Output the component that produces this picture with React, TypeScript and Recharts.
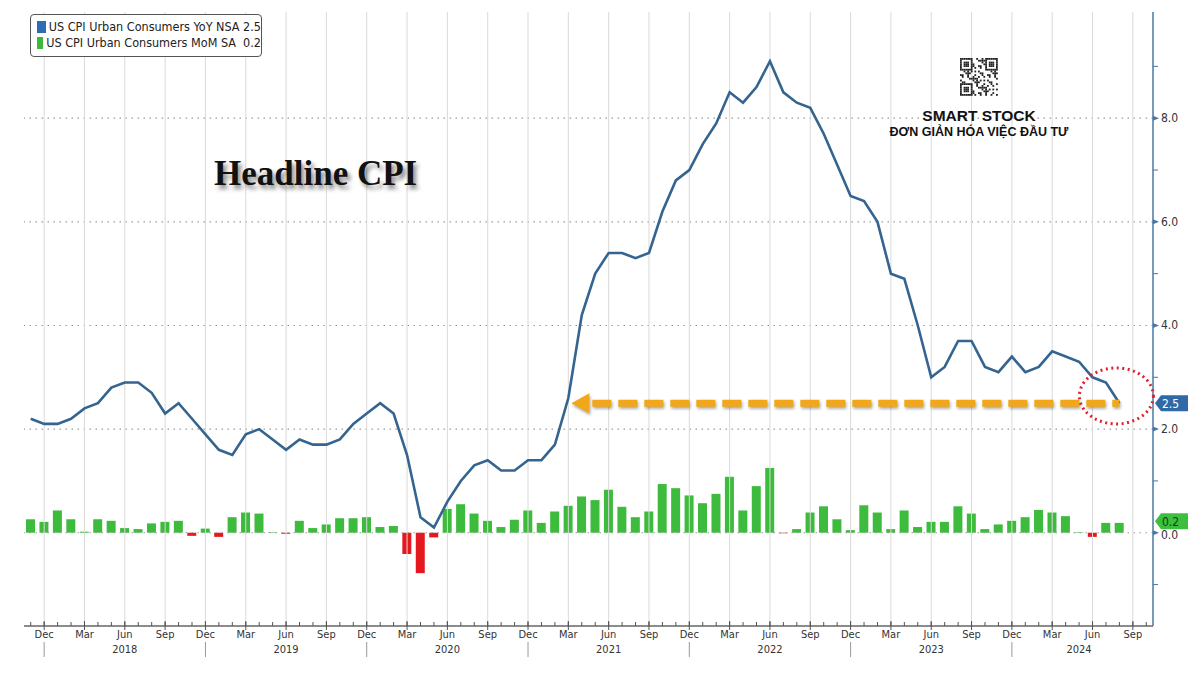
import React from "react";
import { Bar, Cell, ComposedChart, Line, ReferenceDot, ReferenceLine, XAxis, YAxis } from "recharts";

const monthNames = ["Jan", "Feb", "Mar", "Apr", "May", "Jun", "Jul", "Aug", "Sep", "Oct", "Nov", "Dec"];
// Nov 2017 .. Oct 2024 (last two months are empty room on the axis)
const months: string[] = Array.from({ length: 84 }, (_, i) => {
  const k = 10 + i;
  return `${monthNames[k % 12]} ${String(2017 + Math.floor(k / 12)).slice(2)}`;
});

const yoy = [
  2.2, 2.1,
  2.1, 2.2, 2.4, 2.5, 2.8, 2.9, 2.9, 2.7, 2.3, 2.5, 2.2, 1.9,
  1.6, 1.5, 1.9, 2.0, 1.8, 1.6, 1.8, 1.7, 1.7, 1.8, 2.1, 2.3,
  2.5, 2.3, 1.5, 0.3, 0.1, 0.6, 1.0, 1.3, 1.4, 1.2, 1.2, 1.4,
  1.4, 1.7, 2.6, 4.2, 5.0, 5.4, 5.4, 5.3, 5.4, 6.2, 6.8, 7.0,
  7.5, 7.9, 8.5, 8.3, 8.6, 9.1, 8.5, 8.3, 8.2, 7.7, 7.1, 6.5,
  6.4, 6.0, 5.0, 4.9, 4.0, 3.0, 3.2, 3.7, 3.7, 3.2, 3.1, 3.4,
  3.1, 3.2, 3.5, 3.4, 3.3, 3.0, 2.9, 2.5
];

const mom = [
  0.26, 0.21,
  0.43, 0.26, 0.02, 0.26, 0.23, 0.09, 0.07, 0.18, 0.21, 0.23, -0.06, 0.08,
  -0.08, 0.3, 0.39, 0.37, 0.01, -0.02, 0.23, 0.09, 0.16, 0.28, 0.28, 0.3,
  0.11, 0.13, -0.41, -0.78, -0.09, 0.46, 0.55, 0.37, 0.23, 0.11, 0.25, 0.43,
  0.19, 0.41, 0.52, 0.7, 0.63, 0.83, 0.5, 0.3, 0.41, 0.94, 0.86, 0.72,
  0.57, 0.75, 1.08, 0.43, 0.9, 1.25, -0.01, 0.07, 0.39, 0.51, 0.26, 0.05,
  0.53, 0.39, 0.07, 0.43, 0.11, 0.21, 0.21, 0.51, 0.37, 0.07, 0.16, 0.23,
  0.3, 0.44, 0.39, 0.32, 0.01, -0.08, 0.19, 0.19
];

const quarterMonths = ["Dec", "Mar", "Jun", "Sep"];
const yearLabels: Record<string, string> = {
  "Jun 18": "2018", "Jun 19": "2019", "Jun 20": "2020", "Jun 21": "2021",
  "Jun 22": "2022", "Jun 23": "2023", "May 24": "2024"
};
const yDomain = [-1.8, 10.05];
const yTicks = [-1, 0, 1, 2, 3, 4, 5, 6, 7, 8, 9];
const gridY = [0, 2, 4, 6, 8];
const gridX = months.filter((m) => quarterMonths.includes(m.split(" ")[0]));
const lastYoy = 2.5;
const lastMom = 0.2;
const arrowFrom = "Mar 21";
const arrowTo = "Aug 24";

const data = months.map((month, i) => ({
  month,
  yoy: i < yoy.length ? yoy[i] : null,
  mom: i < mom.length ? mom[i] : null
}));

const font = '"DejaVu Sans Condensed", "DejaVu Sans", sans-serif';
const lineBlue = "#34648f";
const green = "#3dbb3d";
const red = "#e3191f";
const gridColor = "#999";

function MonthTick({ x, y, payload }: any) {
  const label = String(payload.value);
  const m = label.split(" ")[0];
  const major = quarterMonths.includes(m);
  const year = yearLabels[label];
  return (
    <g>
      <line x1={x} x2={x} y1={y - 4} y2={y} stroke="#555" />
      {major && <line x1={x} x2={x} y1={y - 5} y2={y + 4} stroke="#555" />}
      {major && (
        <text x={x} y={y + 12} textAnchor="middle" fontSize={11} fontFamily={font} fill="#333">
          {m}
        </text>
      )}
      {m === "Dec" && <line x1={x} x2={x} y1={y + 16} y2={y + 31} stroke="#999" />}
      {year && (
        <text x={x} y={y + 27} textAnchor="middle" fontSize={11} fontFamily={font} fill="#333">
          {year}
        </text>
      )}
    </g>
  );
}

function ValueTick({ x, y, payload }: any) {
  const v = payload.value;
  if (v >= 0 && v % 2 === 0) {
    return (
      <g>
        <polygon points={`${x},${y - 2.5} ${x + 6},${y} ${x},${y + 2.5}`} fill="#4a77a3" />
        <text x={x + 8} y={y + (v === 0 ? 6 : 4)} fontSize={12} fontFamily={font} fill="#333">
          {v.toFixed(1)}
        </text>
      </g>
    );
  }
  return <line x1={x} x2={x + 5} y1={y} y2={y} stroke="#4a77a3" />;
}

function ArrowShape({ x1, y1, x2 }: any) {
  const tipX = Math.min(x1, x2);
  const endX = Math.max(x1, x2);
  return (
    <g style={{ filter: "drop-shadow(1px 2px 1.5px rgba(0,0,0,0.35))" }}>
      <line x1={tipX + 24} x2={endX} y1={y1} y2={y1} stroke="#f2a71b" strokeWidth={7} strokeDasharray="19 7" />
      <polygon points={`${tipX + 3},${y1} ${tipX + 21},${y1 - 10} ${tipX + 21},${y1 + 10}`} fill="#f2a71b" />
    </g>
  );
}

function BoxLabel({ x1, x2, y1, text, fill, color, dy = 0 }: any) {
  const r = Math.max(x1, x2);
  const c = y1 + dy;
  return (
    <g>
      <polygon
        points={`${r + 2},${c} ${r + 8},${c - 8} ${r + 35},${c - 8} ${r + 35},${c + 8} ${r + 8},${c + 8}`}
        fill={fill}
      />
      <text x={r + 9} y={c + 4.5} fontSize={12} fontFamily={font} fill={color}>
        {text}
      </text>
    </g>
  );
}

function QrMark() {
  const n = 21;
  const cells: React.ReactElement[] = [];
  const finder = (r: number, c: number) => {
    const inF = (r0: number, c0: number) => r >= r0 && r < r0 + 7 && c >= c0 && c < c0 + 7;
    const pick = (r0: number, c0: number) => {
      const dr = r - r0;
      const dc = c - c0;
      const edge = dr === 0 || dr === 6 || dc === 0 || dc === 6;
      const core = dr >= 2 && dr <= 4 && dc >= 2 && dc <= 4;
      return edge || core;
    };
    if (inF(0, 0)) return pick(0, 0);
    if (inF(0, 14)) return pick(0, 14);
    if (inF(14, 0)) return pick(14, 0);
    return null;
  };
  for (let r = 0; r < n; r++) {
    for (let c = 0; c < n; c++) {
      const f = finder(r, c);
      const on = f === null ? (r * 7 + c * 11 + ((r * c) % 5)) % 3 === 0 : f;
      if (on) cells.push(<rect key={`${r}-${c}`} x={c * 1.8} y={r * 1.8} width={1.8} height={1.8} fill="#222" />);
    }
  }
  return (
    <svg width={38} height={38} style={{ position: "absolute", left: 960, top: 58 }}>
      {cells}
    </svg>
  );
}

export default function App() {
  return (
    <div style={{ position: "absolute", left: 0, top: 0, width: 1200, height: 674, background: "#fff", overflow: "hidden" }}>
      <ComposedChart width={1200} height={674} data={data} margin={{ top: 12, right: 0, bottom: 0, left: 24 }}>
        <XAxis
          dataKey="month"
          interval={0}
          height={48}
          tickSize={0}
          tickMargin={0}
          tickLine={false}
          axisLine={{ stroke: "#666", strokeWidth: 1.5 }}
          tick={<MonthTick />}
        />
        <YAxis
          orientation="right"
          type="number"
          width={47}
          domain={yDomain}
          allowDataOverflow
          ticks={yTicks}
          interval={0}
          tickSize={0}
          tickMargin={0}
          tickLine={false}
          axisLine={{ stroke: "#4a77a3", strokeWidth: 1.5 }}
          tick={<ValueTick />}
        />
        {gridY.map((v) => (
          <ReferenceLine key={`gy${v}`} y={v} stroke={gridColor} strokeWidth={1.2} strokeDasharray="1.5 4.5" />
        ))}
        {gridX.map((m) => (
          <ReferenceLine key={`gx${m}`} x={m} stroke="#dadada" strokeWidth={1} />
        ))}
        <Bar dataKey="mom" barSize={9} isAnimationActive={false}>
          {data.map((d) => (
            <Cell key={d.month} fill={(d.mom ?? 0) < 0 ? red : green} />
          ))}
        </Bar>
        <Line
          dataKey="yoy"
          type="linear"
          stroke={lineBlue}
          strokeWidth={2.6}
          dot={false}
          activeDot={false}
          connectNulls={false}
          isAnimationActive={false}
        />
        <ReferenceLine
          segment={[
            { x: arrowFrom, y: lastYoy },
            { x: arrowTo, y: lastYoy }
          ]}
          shape={(p: any) => <ArrowShape {...p} />}
        />
        <ReferenceDot
          x={arrowTo}
          y={2.66}
          r={30}
          shape={(p: any) => (
            <ellipse
              cx={p.cx - 3}
              cy={p.cy + 1}
              rx={37}
              ry={28}
              fill="none"
              stroke="#e0202a"
              strokeWidth={3}
              strokeDasharray="2 3.5"
            />
          )}
        />
        <ReferenceLine y={lastYoy} shape={(p: any) => <BoxLabel {...p} text={lastYoy.toFixed(1)} fill="#2f6aa6" color="#fff" />} />
        <ReferenceLine
          y={lastMom}
          shape={(p: any) => <BoxLabel {...p} dy={-1} text={lastMom.toFixed(1)} fill="#3cbf3c" color="#1a3a1a" />}
        />
      </ComposedChart>

      <div
        style={{
          position: "absolute",
          left: 30,
          top: 14,
          width: 232,
          height: 43,
          border: "1px solid #555",
          borderRadius: 4,
          background: "#fff",
          fontFamily: font,
          fontSize: 12.5,
          color: "#222",
          boxSizing: "border-box",
          padding: "4px 0 0 6px",
          lineHeight: "16px",
          whiteSpace: "nowrap"
        }}
      >
        <div style={{ display: "flex", alignItems: "center" }}>
          <span style={{ width: 12, height: 12, background: "#2d6cb5", marginRight: 3, display: "inline-block" }} />
          US CPI Urban Consumers YoY NSA 2.5
        </div>
        <div style={{ display: "flex", alignItems: "center" }}>
          <span style={{ width: 12, height: 12, background: "#3cb83c", marginRight: 3, display: "inline-block" }} />
          US CPI Urban Consumers MoM SA&nbsp;&nbsp;0.2
        </div>
      </div>

      <div
        style={{
          position: "absolute",
          left: 214,
          top: 154,
          fontFamily: '"Liberation Serif", serif',
          fontWeight: "bold",
          fontSize: 35,
          color: "#111",
          textShadow: "3px 4px 4px rgba(0,0,0,0.45)",
          whiteSpace: "nowrap"
        }}
      >
        Headline CPI
      </div>

      <QrMark />
      <div
        style={{
          position: "absolute",
          left: 879,
          top: 107,
          width: 200,
          textAlign: "center",
          fontFamily: '"Liberation Sans", Arial, sans-serif',
          fontWeight: "bold",
          color: "#111",
          whiteSpace: "nowrap"
        }}
      >
        <div style={{ fontSize: 15.5, lineHeight: "18px" }}>SMART STOCK</div>
        <div style={{ fontSize: 12.5, lineHeight: "15px" }}>ĐƠN GIẢN HÓA VIỆC ĐẦU TƯ</div>
      </div>
    </div>
  );
}
